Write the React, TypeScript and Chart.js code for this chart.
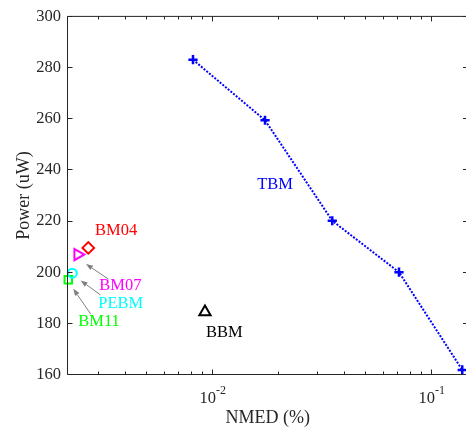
import React, { useEffect, useRef } from 'react';
import { Chart, registerables } from 'chart.js';

Chart.register(...registerables);

// ---- data ----
const tbmX = [0.00813, 0.01734, 0.03516, 0.07091, 0.1379];
const tbmY = [283.1, 259.4, 220.1, 200.0, 161.8];

const markerNames = ['BM04', 'BM07', 'PEBM', 'BM11', 'BBM'];
const markerX = [0.002704, 0.002418, 0.002285, 0.002191, 0.00922];
const markerY = [209.5, 206.9, 199.6, 197.0, 184.4];
const markerColors = ['#FF0000', '#FF00FF', '#00FFFF', '#00FF00', '#000000'];
const markerStyles = ['rectRot', 'triangle', 'circle', 'rect', 'triangle'];
const markerRotations = [0, 90, 0, 0, 0];

const labelTexts = ['BM04', 'BM07', 'PEBM', 'BM11', 'BBM', 'TBM'];
const labelX = [0.002902, 0.003035, 0.003003, 0.002433, 0.00932, 0.01598];
const labelY = [216.2, 194.8, 187.7, 180.5, 176.3, 234.1];
const labelColors = ['#FF0000', '#FF00FF', '#00FFFF', '#00FF00', '#000000', '#0000FF'];

const arrowFromX = [0.003344, 0.003074, 0.002781];
const arrowFromY = [197.3, 191.1, 183.5];
const arrowToX = [0.002639, 0.002495, 0.002309];
const arrowToY = [203.2, 196.75, 193.5];

const yTicks = [160, 180, 200, 220, 240, 260, 280, 300];
const xMajorTicks = [0.01, 0.1];
const xMinorTicks = [0.003, 0.004, 0.005, 0.006, 0.007, 0.008, 0.009, 0.02, 0.03, 0.04, 0.05, 0.06, 0.07, 0.08, 0.09];

const xMin = 0.002173;
const xMax = 0.1465;
const yMin = 160;
const yMax = 300;

const FONT = "'Liberation Serif', 'Times New Roman', serif";
const AXIS_COLOR = '#262626';

const markerRadius = [5.8, 6.5, 4.5, 5.3, 6.5];

const framePlugin = {
  id: 'frame',
  afterDatasetsDraw(chart: any) {
    const { ctx, scales } = chart;
    const x = scales.x;
    const y = scales.y;
    ctx.save();
    // arrows
    ctx.strokeStyle = '#808080';
    ctx.fillStyle = '#808080';
    ctx.lineWidth = 1;
    for (let i = 0; i < arrowFromX.length; i++) {
      const x0 = x.getPixelForValue(arrowFromX[i]);
      const y0 = y.getPixelForValue(arrowFromY[i]);
      const x1 = x.getPixelForValue(arrowToX[i]);
      const y1 = y.getPixelForValue(arrowToY[i]);
      const ang = Math.atan2(y1 - y0, x1 - x0);
      const hl = 7;
      const hw = 2.6;
      const bx = x1 - Math.cos(ang) * hl;
      const by = y1 - Math.sin(ang) * hl;
      ctx.beginPath();
      ctx.moveTo(x0, y0);
      ctx.lineTo(bx, by);
      ctx.stroke();
      ctx.beginPath();
      ctx.moveTo(x1, y1);
      ctx.lineTo(bx + Math.sin(ang) * hw, by - Math.cos(ang) * hw);
      ctx.lineTo(bx - Math.sin(ang) * hw, by + Math.cos(ang) * hw);
      ctx.closePath();
      ctx.fill();
    }
    // labels
    ctx.font = `16.5px ${FONT}`;
    ctx.textAlign = 'left';
    ctx.textBaseline = 'middle';
    for (let i = 0; i < labelTexts.length; i++) {
      ctx.fillStyle = labelColors[i];
      ctx.fillText(labelTexts[i], x.getPixelForValue(labelX[i]), y.getPixelForValue(labelY[i]));
    }
    ctx.restore();
  },
  afterDraw(chart: any) {
    const { ctx, chartArea: a, scales } = chart;
    const x = scales.x;
    const y = scales.y;
    ctx.save();
    ctx.strokeStyle = AXIS_COLOR;
    ctx.lineWidth = 1;
    ctx.beginPath();
    ctx.rect(a.left, a.top, a.right - a.left, a.bottom - a.top);
    ctx.stroke();
    ctx.beginPath();
    for (const v of yTicks) {
      const py = Math.floor(y.getPixelForValue(v)) + 0.5;
      ctx.moveTo(a.left, py);
      ctx.lineTo(a.left + 5, py);
      ctx.moveTo(a.right, py);
      ctx.lineTo(a.right - 5, py);
    }
    const drawXTick = (v: number, len: number) => {
      const px = Math.floor(x.getPixelForValue(v)) + 0.5;
      ctx.moveTo(px, a.bottom);
      ctx.lineTo(px, a.bottom - len);
      ctx.moveTo(px, a.top);
      ctx.lineTo(px, a.top + len);
    };
    for (const v of xMinorTicks) drawXTick(v, 3);
    for (const v of xMajorTicks) drawXTick(v, 5);
    ctx.stroke();
    // x tick labels 10^n
    ctx.fillStyle = AXIS_COLOR;
    ctx.textBaseline = 'alphabetic';
    ctx.textAlign = 'left';
    for (const v of xMajorTicks) {
      const px = x.getPixelForValue(v);
      const e = Math.round(Math.log10(v));
      const base = '10';
      const sup = String(e);
      ctx.font = `16.5px ${FONT}`;
      const w1 = ctx.measureText(base).width;
      ctx.font = `12px ${FONT}`;
      const w2 = ctx.measureText(sup).width;
      const start = px - (w1 + w2) / 2;
      ctx.font = `16.5px ${FONT}`;
      ctx.fillText(base, start, a.bottom + 28.5);
      ctx.font = `12px ${FONT}`;
      ctx.fillText(sup, start + w1, a.bottom + 19.5);
    }
    ctx.restore();
  },
};

export default function App() {
  const ref = useRef<HTMLCanvasElement | null>(null);
  useEffect(() => {
    if (!ref.current) return;
    const datasets: any[] = [
      {
        label: 'TBM',
        data: tbmX.map((v, i) => ({ x: v, y: tbmY[i] })),
        showLine: true,
        borderColor: '#0000FF',
        borderWidth: 2,
        borderDash: [2, 1.5],
        pointStyle: 'cross',
        pointRadius: 4.6,
        pointBorderWidth: 2.5,
        pointBorderColor: '#0000FF',
        pointBackgroundColor: '#0000FF',
        clip: false,
      },
      ...markerNames.map((n, i) => ({
        label: n,
        data: [{ x: markerX[i], y: markerY[i] }],
        showLine: false,
        pointStyle: markerStyles[i],
        pointRotation: markerRotations[i],
        pointRadius: markerRadius[i],
        pointBorderWidth: 2,
        pointBorderColor: markerColors[i],
        pointBackgroundColor: 'rgba(0,0,0,0)',
        clip: false,
      })),
    ];
    const chart = new Chart(ref.current, {
      type: 'scatter',
      data: { datasets },
      options: {
        animation: false,
        responsive: false,
        maintainAspectRatio: false,
        layout: { autoPadding: false, padding: { left: 0, top: 14.5, right: 2, bottom: 0 } },
        plugins: { legend: { display: false }, tooltip: { enabled: false } },
        scales: {
          x: {
            type: 'logarithmic',
            min: xMin,
            max: xMax,
            grid: { display: false, drawTicks: false },
            border: { display: false },
            ticks: { display: false },
            title: {
              display: true,
              text: 'NMED (%)',
              color: AXIS_COLOR,
              font: { family: FONT, size: 18 },
              padding: { top: 0, bottom: 3 },
            },
            afterFit: (s: any) => {
              s.height = 57.5;
            },
          },
          y: {
            type: 'linear',
            min: yMin,
            max: yMax,
            grid: { display: false, drawTicks: false },
            border: { display: false },
            ticks: {
              stepSize: 20,
              autoSkip: false,
              padding: 6.5,
              color: AXIS_COLOR,
              font: { family: FONT, size: 16.5 },
            },
            afterBuildTicks: (s: any) => {
              s.ticks = yTicks.map((v) => ({ value: v }));
            },
            title: {
              display: true,
              text: 'Power (uW)',
              color: AXIS_COLOR,
              font: { family: FONT, size: 18 },
              padding: { top: 13, bottom: 0 },
            },
            afterFit: (s: any) => {
              s.width = 67.5;
            },
          },
        },
      } as any,
      plugins: [framePlugin],
    });
    return () => chart.destroy();
  }, []);
  return (
    <div
      style={{
        position: 'fixed',
        left: 0,
        top: 0,
        width: 466,
        height: 432,
        overflow: 'hidden',
        background: '#fff',
      }}
    >
      <canvas ref={ref} width={470} height={432} style={{ display: 'block', width: 470, height: 432 }} />
    </div>
  );
}
